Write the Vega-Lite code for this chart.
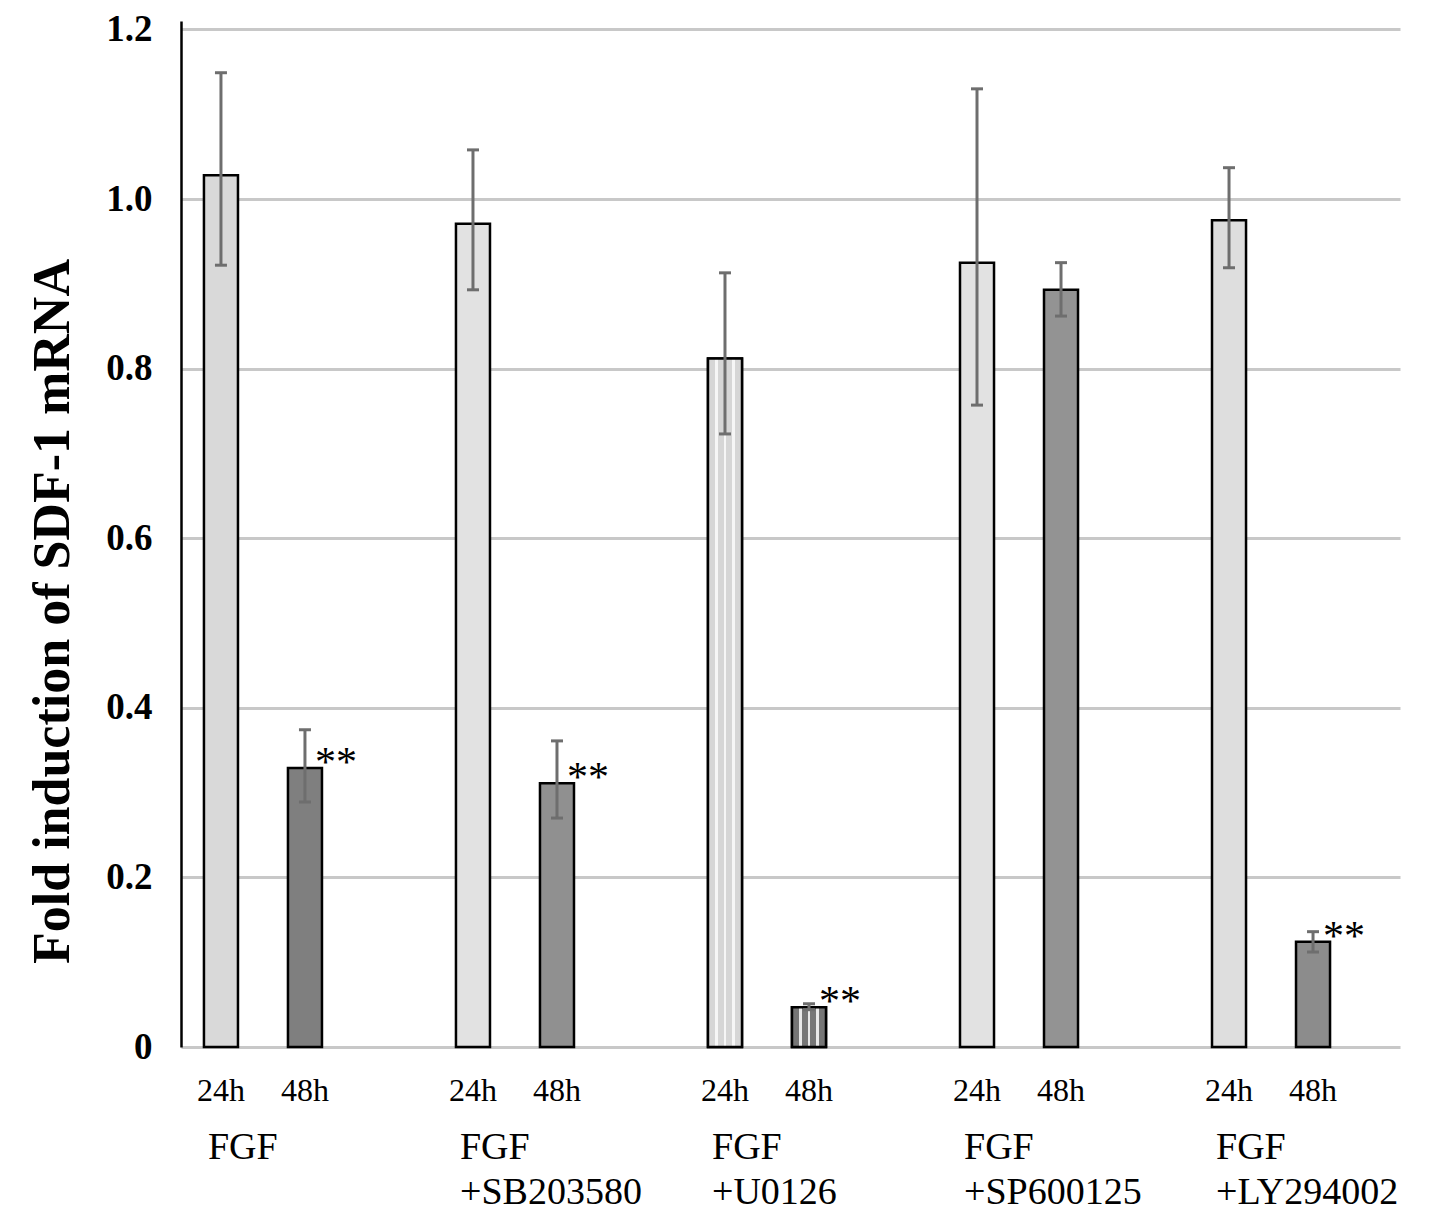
{
  "$schema": "https://vega.github.io/schema/vega-lite/v6.json",
  "width": 1219,
  "height": 1026,
  "autosize": {"type": "none"},
  "padding": {"left": 181, "top": 21, "right": 41, "bottom": 170},
  "background": "white",
  "config": {"view": {"stroke": null}, "font": "Liberation Serif"},
  "data": {
    "values": [
      {"group": "FGF", "time": "24h", "value": 1.028, "lo": 0.922, "hi": 1.149, "sig": ""},
      {"group": "FGF", "time": "48h", "value": 0.329, "lo": 0.289, "hi": 0.374, "sig": "**"},
      {"group": "FGF+SB203580", "time": "24h", "value": 0.971, "lo": 0.893, "hi": 1.058, "sig": ""},
      {"group": "FGF+SB203580", "time": "48h", "value": 0.311, "lo": 0.270, "hi": 0.361, "sig": "**"},
      {"group": "FGF+U0126", "time": "24h", "value": 0.812, "lo": 0.723, "hi": 0.913, "sig": ""},
      {"group": "FGF+U0126", "time": "48h", "value": 0.047, "lo": 0.044, "hi": 0.051, "sig": "**"},
      {"group": "FGF+SP600125", "time": "24h", "value": 0.925, "lo": 0.757, "hi": 1.130, "sig": ""},
      {"group": "FGF+SP600125", "time": "48h", "value": 0.893, "lo": 0.862, "hi": 0.925, "sig": ""},
      {"group": "FGF+LY294002", "time": "24h", "value": 0.975, "lo": 0.919, "hi": 1.037, "sig": ""},
      {"group": "FGF+LY294002", "time": "48h", "value": 0.124, "lo": 0.112, "hi": 0.136, "sig": "**"}
    ]
  },
  "transform": [{"calculate": "datum.group + ' ' + datum.time", "as": "key"}],
  "layer": [
    {
      "layer": [
        {
          "mark": {"type": "bar", "stroke": "black", "strokeWidth": 2.5},
          "encoding": {
            "x": {
              "field": "key", "type": "nominal", "sort": null,
              "scale": {
                "type": "band",
                "domain": ["FGF 24h", "FGF 48h", "gap1", "FGF+SB203580 24h", "FGF+SB203580 48h", "gap2", "FGF+U0126 24h", "FGF+U0126 48h", "gap3", "FGF+SP600125 24h", "FGF+SP600125 48h", "gap4", "FGF+LY294002 24h", "FGF+LY294002 48h"],
                "paddingInner": 0.595, "paddingOuter": 0.553, "align": 0.247
              },
              "axis": {
                "title": null,
                "labelExpr": "indexof(datum.value, '24h') >= 0 ? '24h' : (indexof(datum.value, '48h') >= 0 ? '48h' : '')",
                "labelAngle": 0, "labelFontSize": 32, "labelColor": "black", "labelPadding": 28,
                "labelBaseline": "top", "ticks": false, "domain": false, "grid": false,
                "labelOverlap": false, "labelBound": false, "labelFlush": false
              }
            },
            "y": {
              "field": "value", "type": "quantitative",
              "scale": {"domain": [0, 1.21], "nice": false},
              "axis": {
                "values": [0, 0.2, 0.4, 0.6, 0.8, 1, 1.2],
                "labelExpr": "datum.value == 0 ? '0' : format(datum.value, '.1f')",
                "title": "Fold induction of SDF-1 mRNA",
                "titleFontSize": 52, "titleFontWeight": "bold", "titleColor": "black",
                "titlePadding": 26, "titleY": 590,
                "labelFontSize": 37, "labelFontWeight": "bold", "labelColor": "black", "labelPadding": 29,
                "ticks": false, "domainColor": "black", "domainWidth": 2.5,
                "grid": true, "gridColor": "#c8c8c8", "gridWidth": 3
              }
            },
            "fill": {
              "field": "key", "type": "nominal", "legend": null,
              "scale": {
                "domain": ["FGF 24h", "FGF 48h", "FGF+SB203580 24h", "FGF+SB203580 48h", "FGF+U0126 24h", "FGF+U0126 48h", "FGF+SP600125 24h", "FGF+SP600125 48h", "FGF+LY294002 24h", "FGF+LY294002 48h"],
                "range": ["#d9d9d9", "#7f7f7f", "#e2e2e2", "#909090", "#dadada", "#8a8a8a", "#e2e2e2", "#939393", "#dedede", "#8c8c8c"]
              }
            }
          }
        },
        {
          "transform": [{"filter": "datum.key == 'FGF+U0126 24h'"}],
          "mark": {
            "type": "bar", "stroke": "black", "strokeWidth": 2.5,
            "fill": {
              "gradient": "linear", "x1": 0, "y1": 0, "x2": 1, "y2": 0,
              "stops": [
                {"offset": 0, "color": "#d6d6d6"}, {"offset": 0.21, "color": "#d6d6d6"},
                {"offset": 0.21, "color": "#f6f6f6"}, {"offset": 0.29, "color": "#f6f6f6"},
                {"offset": 0.29, "color": "#d6d6d6"}, {"offset": 0.46, "color": "#d6d6d6"},
                {"offset": 0.46, "color": "#f6f6f6"}, {"offset": 0.54, "color": "#f6f6f6"},
                {"offset": 0.54, "color": "#d6d6d6"}, {"offset": 0.71, "color": "#d6d6d6"},
                {"offset": 0.71, "color": "#f6f6f6"}, {"offset": 0.79, "color": "#f6f6f6"},
                {"offset": 0.79, "color": "#d6d6d6"}, {"offset": 1, "color": "#d6d6d6"}
              ]
            }
          },
          "encoding": {
            "x": {"field": "key", "type": "nominal"},
            "y": {"field": "value", "type": "quantitative"}
          }
        },
        {
          "transform": [{"filter": "datum.key == 'FGF+U0126 48h'"}],
          "mark": {
            "type": "bar", "stroke": "black", "strokeWidth": 2.5,
            "fill": {
              "gradient": "linear", "x1": 0, "y1": 0, "x2": 1, "y2": 0,
              "stops": [
                {"offset": 0, "color": "#767676"}, {"offset": 0.21, "color": "#767676"},
                {"offset": 0.21, "color": "#e8e8e8"}, {"offset": 0.29, "color": "#e8e8e8"},
                {"offset": 0.29, "color": "#767676"}, {"offset": 0.46, "color": "#767676"},
                {"offset": 0.46, "color": "#e8e8e8"}, {"offset": 0.54, "color": "#e8e8e8"},
                {"offset": 0.54, "color": "#767676"}, {"offset": 0.71, "color": "#767676"},
                {"offset": 0.71, "color": "#e8e8e8"}, {"offset": 0.79, "color": "#e8e8e8"},
                {"offset": 0.79, "color": "#767676"}, {"offset": 1, "color": "#767676"}
              ]
            }
          },
          "encoding": {
            "x": {"field": "key", "type": "nominal"},
            "y": {"field": "value", "type": "quantitative"}
          }
        },
        {
          "mark": {"type": "rule", "color": "#6e6e6e", "strokeWidth": 3},
          "encoding": {
            "x": {"field": "key", "type": "nominal"},
            "y": {"field": "lo", "type": "quantitative"},
            "y2": {"field": "hi"}
          }
        },
        {
          "mark": {"type": "tick", "color": "#6e6e6e", "thickness": 3, "size": 12, "orient": "horizontal", "opacity": 1},
          "encoding": {
            "x": {"field": "key", "type": "nominal"},
            "y": {"field": "hi", "type": "quantitative"}
          }
        },
        {
          "mark": {"type": "tick", "color": "#6e6e6e", "thickness": 3, "size": 12, "orient": "horizontal", "opacity": 1},
          "encoding": {
            "x": {"field": "key", "type": "nominal"},
            "y": {"field": "lo", "type": "quantitative"}
          }
        },
        {
          "transform": [{"filter": "datum.sig != ''"}],
          "mark": {"type": "text", "align": "left", "baseline": "alphabetic", "dx": 10, "dy": 8, "fontSize": 42, "color": "black"},
          "encoding": {
            "x": {"field": "key", "type": "nominal"},
            "y": {"field": "value", "type": "quantitative"},
            "text": {"field": "sig"}
          }
        }
      ]
    },
    {
      "mark": {"type": "point", "opacity": 0},
      "encoding": {
        "x": {
          "field": "key", "type": "nominal", "sort": null,
          "scale": {
            "type": "band",
            "domain": ["FGF 24h", "FGF 48h", "gap1", "FGF+SB203580 24h", "FGF+SB203580 48h", "gap2", "FGF+U0126 24h", "FGF+U0126 48h", "gap3", "FGF+SP600125 24h", "FGF+SP600125 48h", "gap4", "FGF+LY294002 24h", "FGF+LY294002 48h"],
            "paddingInner": 0.595, "paddingOuter": 0.553, "align": 0.247
          },
          "axis": {
            "orient": "bottom", "title": null,
            "labelExpr": "indexof(datum.value, '24h') < 0 ? '' : (datum.value == 'FGF 24h' ? 'FGF' : ['FGF', replace(replace(datum.value, 'FGF', ''), ' 24h', '')])",
            "labelAlign": "left", "labelOffset": -13, "labelAngle": 0, "labelLimit": 0,
            "labelFontSize": 38, "labelLineHeight": 45, "labelPadding": 81, "labelBaseline": "top",
            "labelColor": "black", "ticks": false, "domain": false, "grid": false,
            "labelOverlap": false, "labelBound": false, "labelFlush": false
          }
        },
        "y": {"field": "value", "type": "quantitative"}
      }
    }
  ],
  "resolve": {"scale": {"x": "independent"}}
}
